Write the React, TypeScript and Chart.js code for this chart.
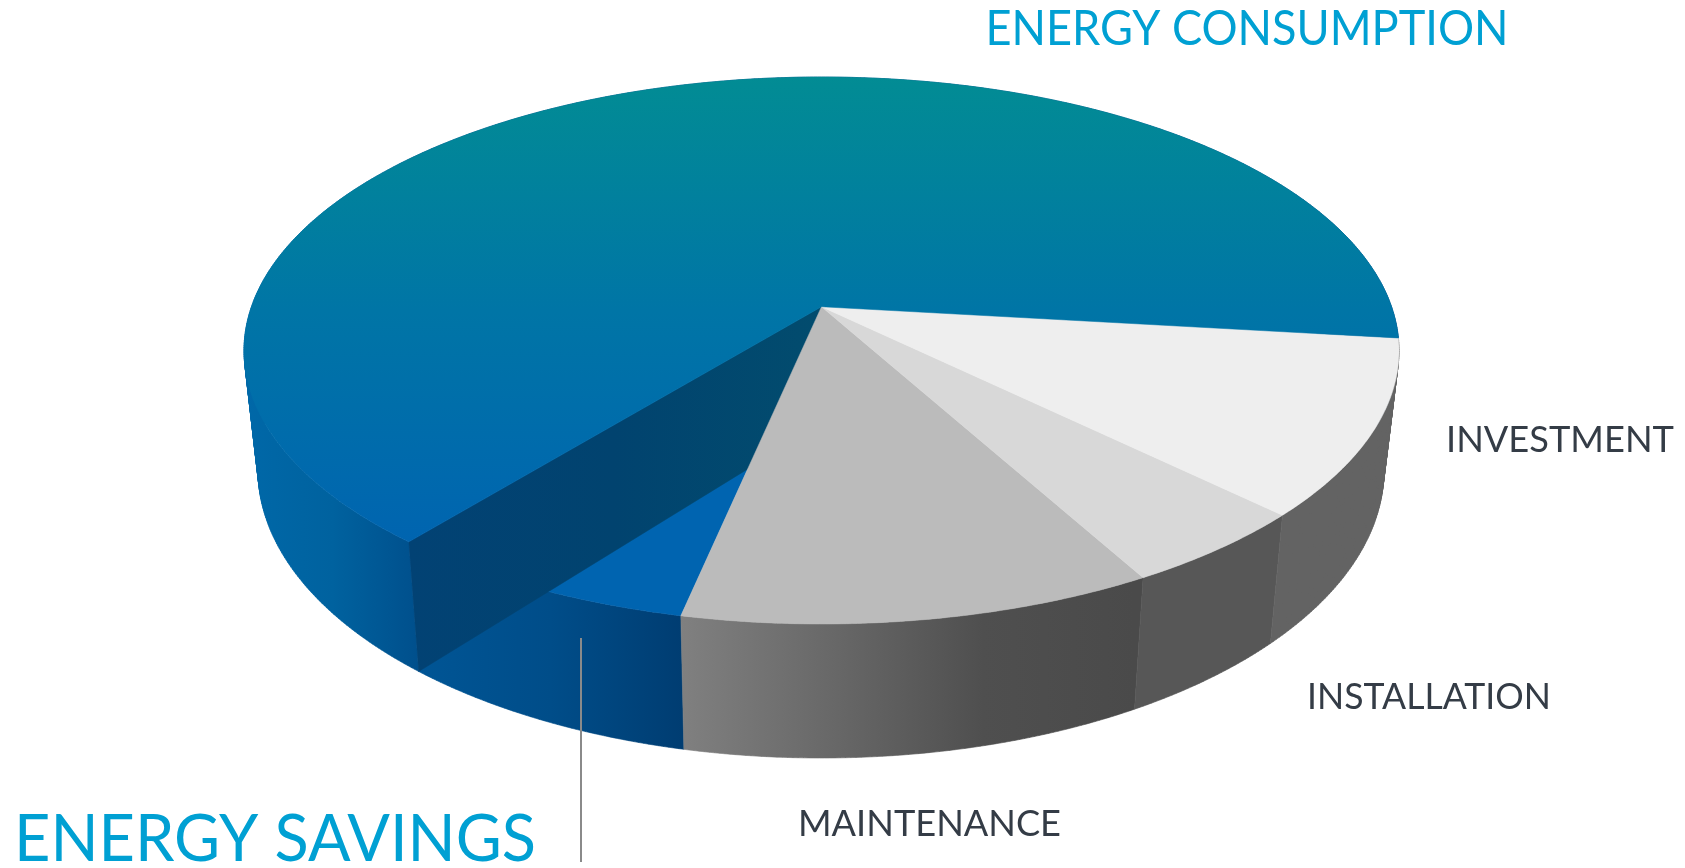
import React, { useEffect, useRef } from "react";
import { Chart, registerables } from "chart.js";

Chart.register(...registerables);

// ---- data ----
const categories = ["INVESTMENT", "INSTALLATION", "MAINTENANCE", "ENERGY SAVINGS", "ENERGY CONSUMPTION"];
const shares = [10.4, 4.7, 11.4, 7.6, 65.9];
const faceColors = ["#eeeeee", "#d8d8d8", "#bbbbbb", "#0064b0", "#0064b0"];

// ---- layout & styles ----
const W = 1685;
const H = 868;
const TOP = { cx: 821.5, cy: 350.5, a: 577.5, b: 273.5 };
const BOTTOM = { cx: 821, cy: 470, a: 563, b: 288 };
const TILT = -0.16;
const LABEL_BOXES: Record<string, { x: number; base: number; w: number; size: number; color: string }> = {
  "ENERGY CONSUMPTION": { x: 985.5, base: 44.5, w: 523, size: 47.5, color: "#00a0d3" },
  "ENERGY SAVINGS": { x: 14, base: 861, w: 522, size: 65.5, color: "#00a0d3" },
  INVESTMENT: { x: 1446, base: 452, w: 228, size: 36, color: "#343c46" },
  INSTALLATION: { x: 1307, base: 709, w: 244, size: 36, color: "#343c46" },
  MAINTENANCE: { x: 798, base: 835.5, w: 263, size: 36, color: "#343c46" },
};

type Ell = typeof TOP;
type Pt = [number, number];
const project = (e: Ell, u: number, v: number): Pt => {
  const d = 1 + TILT * v;
  const xn = (u * Math.sqrt(1 - TILT * TILT)) / d;
  const yn = (v + TILT) / d;
  return [e.cx + e.a * xn, e.cy + e.b * yn];
};
const rimPt = (e: Ell, ang: number) => project(e, Math.cos(ang), Math.sin(ang));
const apex = (e: Ell) => project(e, 0, 0);

function rim(e: Ell, s: number, t: number): Pt[] {
  const n = Math.max(2, Math.ceil(Math.abs(t - s) / 0.008));
  const pts: Pt[] = [];
  for (let i = 0; i <= n; i++) pts.push(rimPt(e, s + ((t - s) * i) / n));
  return pts;
}

function poly(ctx: CanvasRenderingContext2D, pts: Pt[], fill: string | CanvasGradient) {
  ctx.beginPath();
  pts.forEach((p, i) => (i ? ctx.lineTo(p[0], p[1]) : ctx.moveTo(p[0], p[1])));
  ctx.closePath();
  ctx.fillStyle = fill;
  ctx.strokeStyle = fill;
  ctx.lineWidth = 0.5;
  ctx.fill();
  ctx.stroke();
}

// The outer wall is the union of small quads, all wound the same way and
// filled as one path, so there are no seams and the silhouette stays a hull.
function side(ctx: CanvasRenderingContext2D, s: number, t: number, fill: string | CanvasGradient) {
  const a = rim(TOP, s, t);
  const b = rim(BOTTOM, s, t);
  ctx.beginPath();
  for (let i = 0; i + 1 < a.length; i++) {
    let q: Pt[] = [a[i], a[i + 1], b[i + 1], b[i]];
    let area = 0;
    q.forEach((p, k) => {
      const r = q[(k + 1) % 4];
      area += p[0] * r[1] - r[0] * p[1];
    });
    if (area < 0) q = q.slice().reverse();
    q.forEach((p, k) => (k ? ctx.lineTo(p[0], p[1]) : ctx.moveTo(p[0], p[1])));
    ctx.closePath();
  }
  ctx.fillStyle = fill;
  ctx.strokeStyle = fill;
  ctx.lineWidth = 0.6;
  ctx.fill("nonzero");
  ctx.stroke();
}

function hGrad(ctx: CanvasRenderingContext2D, x0: number, x1: number, stops: string[]) {
  const g = ctx.createLinearGradient(x0, 0, x1, 0);
  stops.forEach((c, i) => g.addColorStop(i / (stops.length - 1), c));
  return g;
}

const face = (s: number, t: number): Pt[] => [apex(TOP), ...rim(TOP, s, t)];

const pie3d = {
  id: "pie3d",
  beforeDatasetDraw(chart: any) {
    const ctx: CanvasRenderingContext2D = chart.ctx;
    const arcs = chart.getDatasetMeta(0).data as any[];
    const bg = chart.data.datasets[0].backgroundColor as string[];
    const [inv, ins, mai, sav, con] = arcs;

    ctx.save();
    // consumption outer wall
    side(ctx, con.startAngle, con.endAngle, hGrad(ctx, 245, 420, ["#0068a8", "#00629f", "#004f8c"]));
    // savings wedge
    side(ctx, sav.startAngle, sav.endAngle, hGrad(ctx, 420, 682, ["#005595", "#004d89", "#003d72"]));
    poly(ctx, face(sav.startAngle, sav.endAngle), bg[3]);
    // inner wall of the consumption slice
    const eTop = rimPt(TOP, con.startAngle);
    const eBot = rimPt(BOTTOM, con.startAngle);
    poly(ctx, [apex(TOP), eTop, eBot, apex(BOTTOM)], hGrad(ctx, 408, 820, ["#024274", "#01436f", "#024c6e"]));
    // greys
    side(ctx, mai.startAngle, mai.endAngle, hGrad(ctx, 680, 1135, ["#808080", "#686868", "#4f4f4f", "#4a4a4a"]));
    poly(ctx, face(mai.startAngle, mai.endAngle), bg[2]);
    side(ctx, ins.startAngle, ins.endAngle, "#575757");
    poly(ctx, face(ins.startAngle, ins.endAngle), bg[1]);
    side(ctx, inv.startAngle, inv.endAngle, "#636363");
    poly(ctx, face(inv.startAngle, inv.endAngle), bg[0]);
    // consumption top
    const g = ctx.createLinearGradient(0, TOP.cy - TOP.b, 0, 545);
    g.addColorStop(0, "#028c94");
    g.addColorStop(0.5, "#0075a6");
    g.addColorStop(1, bg[4]);
    poly(ctx, face(con.startAngle, con.endAngle), g);

    // leader line
    ctx.beginPath();
    ctx.moveTo(581, 638);
    ctx.lineTo(581, 862);
    ctx.strokeStyle = "#8a8a8a";
    ctx.lineWidth = 2;
    ctx.stroke();

    // labels
    ctx.textBaseline = "alphabetic";
    ctx.textAlign = "left";
    (chart.data.labels as string[]).forEach((name) => {
      const b = LABEL_BOXES[name];
      ctx.font = `400 ${b.size}px Lato`;
      ctx.fillStyle = b.color;
      const m = ctx.measureText(name).width;
      ctx.save();
      ctx.translate(b.x, b.base);
      ctx.scale(b.w / m, 1);
      ctx.fillText(name, 0, 0);
      ctx.restore();
    });
    ctx.restore();
    return false;
  },
};

export default function App() {
  const ref = useRef<HTMLCanvasElement>(null);
  useEffect(() => {
    document.body.style.margin = "0";
    document.body.style.background = "#ffffff";
    const chart = new Chart(ref.current!, {
      type: "pie",
      data: {
        labels: categories,
        datasets: [{ data: shares, backgroundColor: faceColors, borderWidth: 0 }],
      },
      options: {
        responsive: false,
        animation: false,
        rotation: 96.61,
        events: [],
        plugins: { legend: { display: false }, tooltip: { enabled: false } },
      },
      plugins: [pie3d],
    } as any);
    return () => chart.destroy();
  }, []);
  return <canvas ref={ref} width={W} height={H} style={{ display: "block", width: W, height: H }} />;
}
